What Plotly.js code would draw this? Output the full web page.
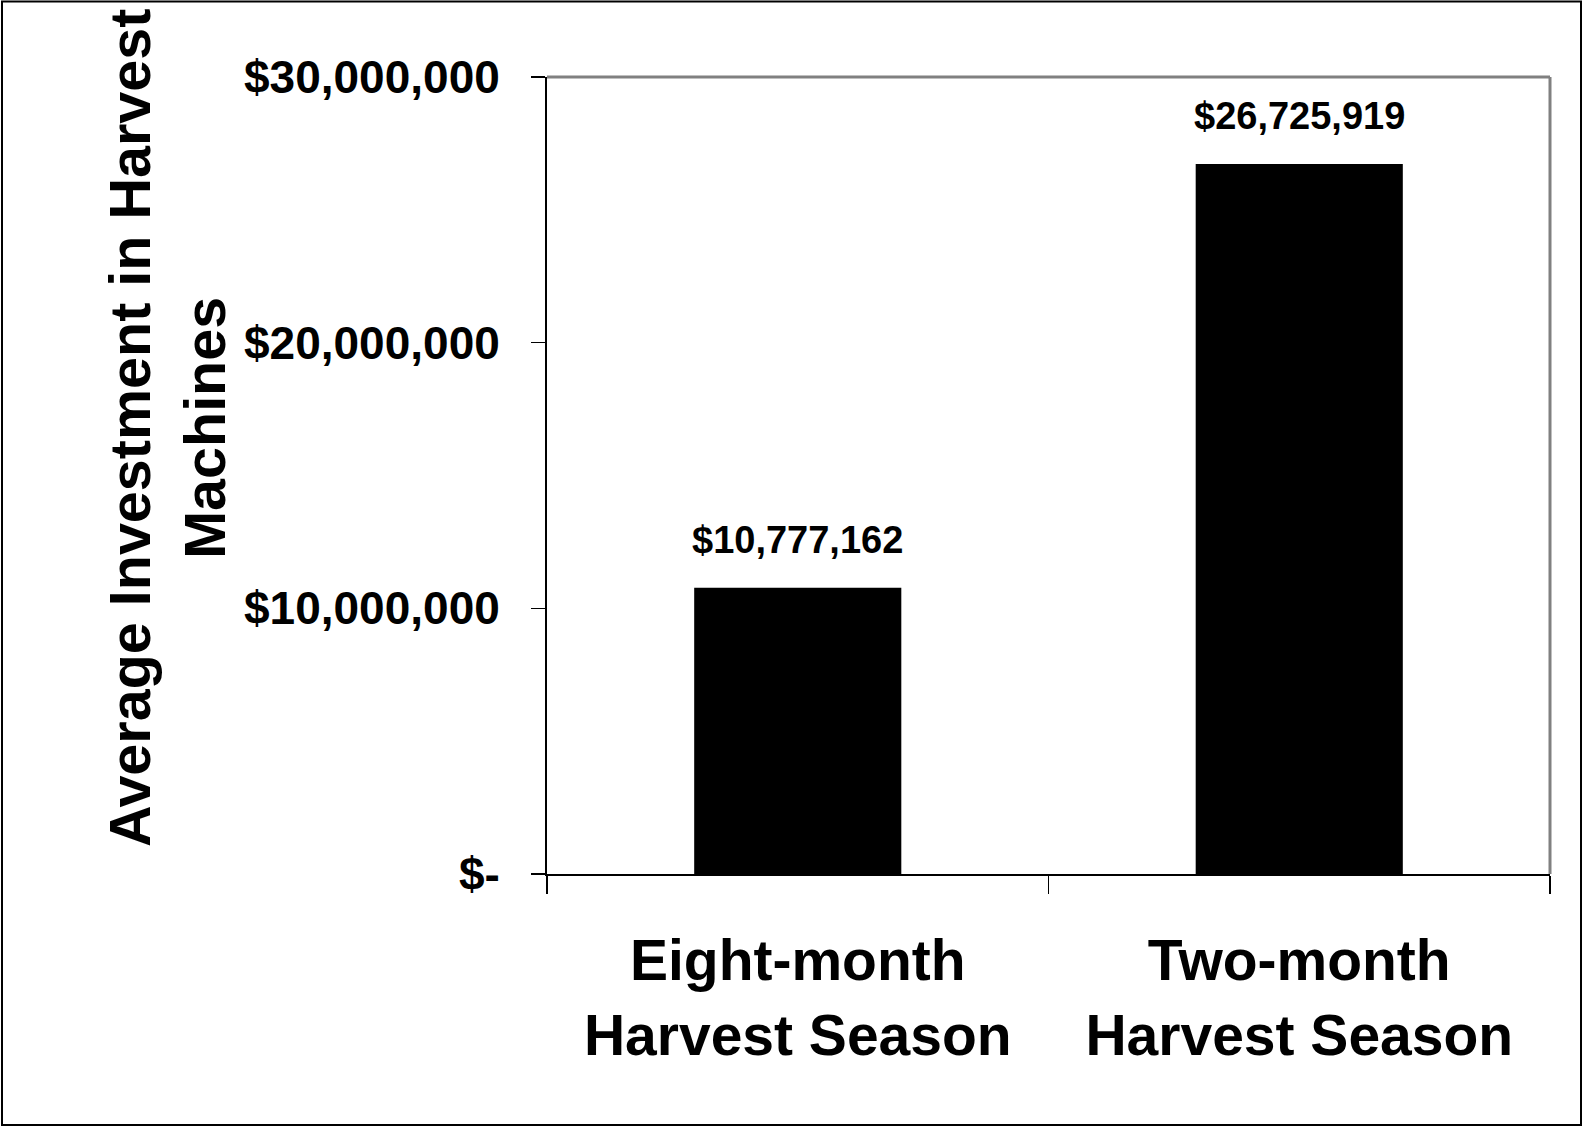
<!DOCTYPE html>
<html>
<head>
<meta charset="utf-8">
<script src="https://cdn.plot.ly/plotly-3.0.1.min.js"></script>
<style>
  html, body { margin: 0; padding: 0; background: #ffffff; }
  #chart { width: 1583px; height: 1127px; }
</style>
</head>
<body>
<div id="chart"></div>
<script>
const categories = ["Eight-month<br>Harvest Season", "Two-month<br>Harvest Season"];
const values = [10777162, 26725919];
const tickVals = [0, 10000000, 20000000, 30000000];
const tickText = ["$-", "$10,000,000", "$20,000,000", "$30,000,000"];
const yTitle = "Average Investment in Harvest<br>Machines";

const FONT = "'Liberation Sans', Arial, Helvetica, sans-serif";

const W = 1583, H = 1127;
const L = 547, R = 1550, T = 77, B = 874;
const pw = R - L, ph = B - T;
const px = x => (x - L) / pw;
const py = y => (B - y) / ph;

const fmt = v => "$" + v.toLocaleString("en-US");

const trace = {
  type: "bar",
  x: categories,
  y: values,
  width: 0.413,
  marker: { color: "#000000", line: { width: 0 } },
  hoverinfo: "skip"
};

const annotations = categories.map((c, i) => ({
  x: c, y: values[i], xref: "x", yref: "y",
  text: fmt(values[i]),
  showarrow: false,
  xanchor: "center", yanchor: "bottom",
  yshift: 25,
  font: { family: FONT, size: 38, color: "#000000", weight: "bold" }
}));

annotations.push({
  x: px(167), y: py(428), xref: "paper", yref: "paper",
  text: yTitle, textangle: -90,
  showarrow: false, xanchor: "center", yanchor: "middle", align: "center",
  font: { family: FONT, size: 57.5, color: "#000000", weight: "bold" }
});

const layout = {
  width: W, height: H,
  margin: { l: L, r: W - R, t: T, b: H - B, pad: 0 },
  paper_bgcolor: "#ffffff",
  plot_bgcolor: "#ffffff",
  showlegend: false,
  bargap: 0.587,
  xaxis: {
    type: "category",
    showline: true, linecolor: "#000000", linewidth: 2,
    ticks: "outside", tickson: "boundaries", ticklen: 18, tickwidth: 1.5, tickcolor: "#000000",
    showgrid: false, zeroline: false,
    tickfont: { family: FONT, size: 57, color: "#000000", weight: "bold" },
    ticklabelstandoff: 36
  },
  yaxis: {
    range: [0, 30000000],
    showline: true, linecolor: "#000000", linewidth: 2,
    ticks: "outside", ticklen: 14, tickwidth: 1.5, tickcolor: "#000000",
    tickvals: tickVals, ticktext: tickText,
    showgrid: false, zeroline: false,
    tickfont: { family: FONT, size: 46, color: "#000000", weight: "bold" },
    ticklabelstandoff: 22
  },
  annotations: annotations,
  shapes: [
    { type: "line", xref: "paper", yref: "paper", x0: 0, x1: 1, y0: 1, y1: 1,
      line: { color: "#808080", width: 3 } },
    { type: "line", xref: "paper", yref: "paper", x0: 1, x1: 1, y0: 0, y1: 1,
      line: { color: "#808080", width: 3 } },
    { type: "rect", xref: "paper", yref: "paper",
      x0: px(2), x1: px(1581), y0: py(1125), y1: py(1.5),
      line: { color: "#000000", width: 2 }, fillcolor: "rgba(0,0,0,0)" }
  ]
};

Plotly.newPlot("chart", [trace], layout, { displayModeBar: false, staticPlot: true });
</script>
</body>
</html>
